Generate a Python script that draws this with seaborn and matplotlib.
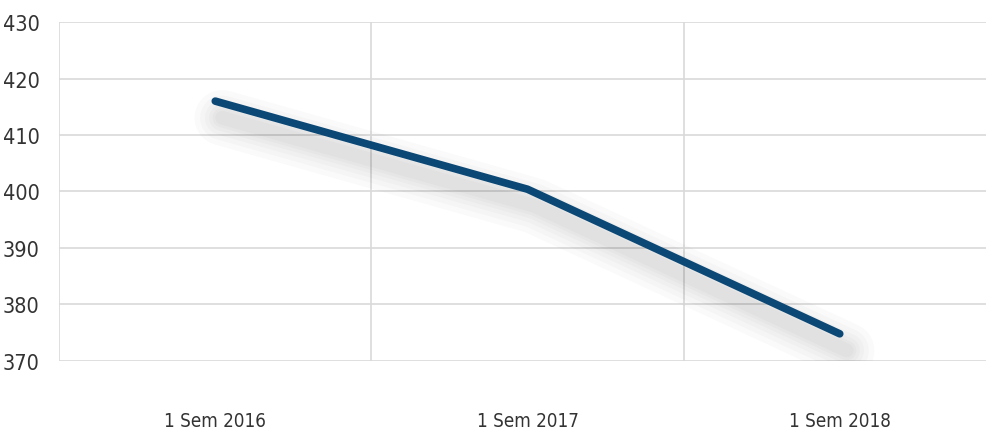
import seaborn as sns
import matplotlib.pyplot as plt
import matplotlib.patheffects as pe
import pandas as pd

# Datos
periodos = ["1 Sem 2016", "1 Sem 2017", "1 Sem 2018"]
valores = [416, 400.4, 374.8]

df = pd.DataFrame({"periodo": periodos, "valor": valores})

sns.set_style("white")
plt.rcParams['font.family'] = ['DejaVu Sans']
plt.rcParams['font.stretch'] = 'condensed'

fig = plt.figure(figsize=(9.86, 4.35), dpi=100)
ax = fig.add_axes([0.06, 0.168, 0.95, 0.779])

# sombra difusa: varias capas anchas y transparentes
sombra = [pe.SimpleLineShadow(offset=(5, -12), shadow_color="black", alpha=0.02, linewidth=w)
          for w in (40, 32, 25, 19, 14, 10)]
sns.lineplot(data=df, x="periodo", y="valor", sort=False, color="#0b4876",
             linewidth=5.5, ax=ax,
             path_effects=sombra + [pe.Normal()])
ax.lines[0].set_solid_capstyle("round")
ax.lines[0].set_solid_joinstyle("round")

ax.set_xlim(-0.5, 2.5)
ax.set_ylim(370, 430)
ax.set_yticks(range(370, 431, 10))
ax.set_xticks([0, 1, 2])
ax.set_xticks([-0.5, 0.5, 1.5, 2.5], minor=True)
ax.grid(axis="y", which="major", color="#d9d9d9", linewidth=1.2)
ax.grid(axis="x", which="minor", color="#d9d9d9", linewidth=1.2)
ax.grid(axis="x", which="major", visible=False)
for s in ax.spines.values():
    s.set_visible(False)

ax.tick_params(axis="y", labelsize=15.5, pad=14, length=0, colors="#333333")
ax.tick_params(axis="x", labelsize=13.5, pad=36, length=0, colors="#333333")
ax.tick_params(axis="x", which="minor", length=0)
ax.set_xlabel("")
ax.set_ylabel("")

fig.savefig("out.png", dpi=100)
